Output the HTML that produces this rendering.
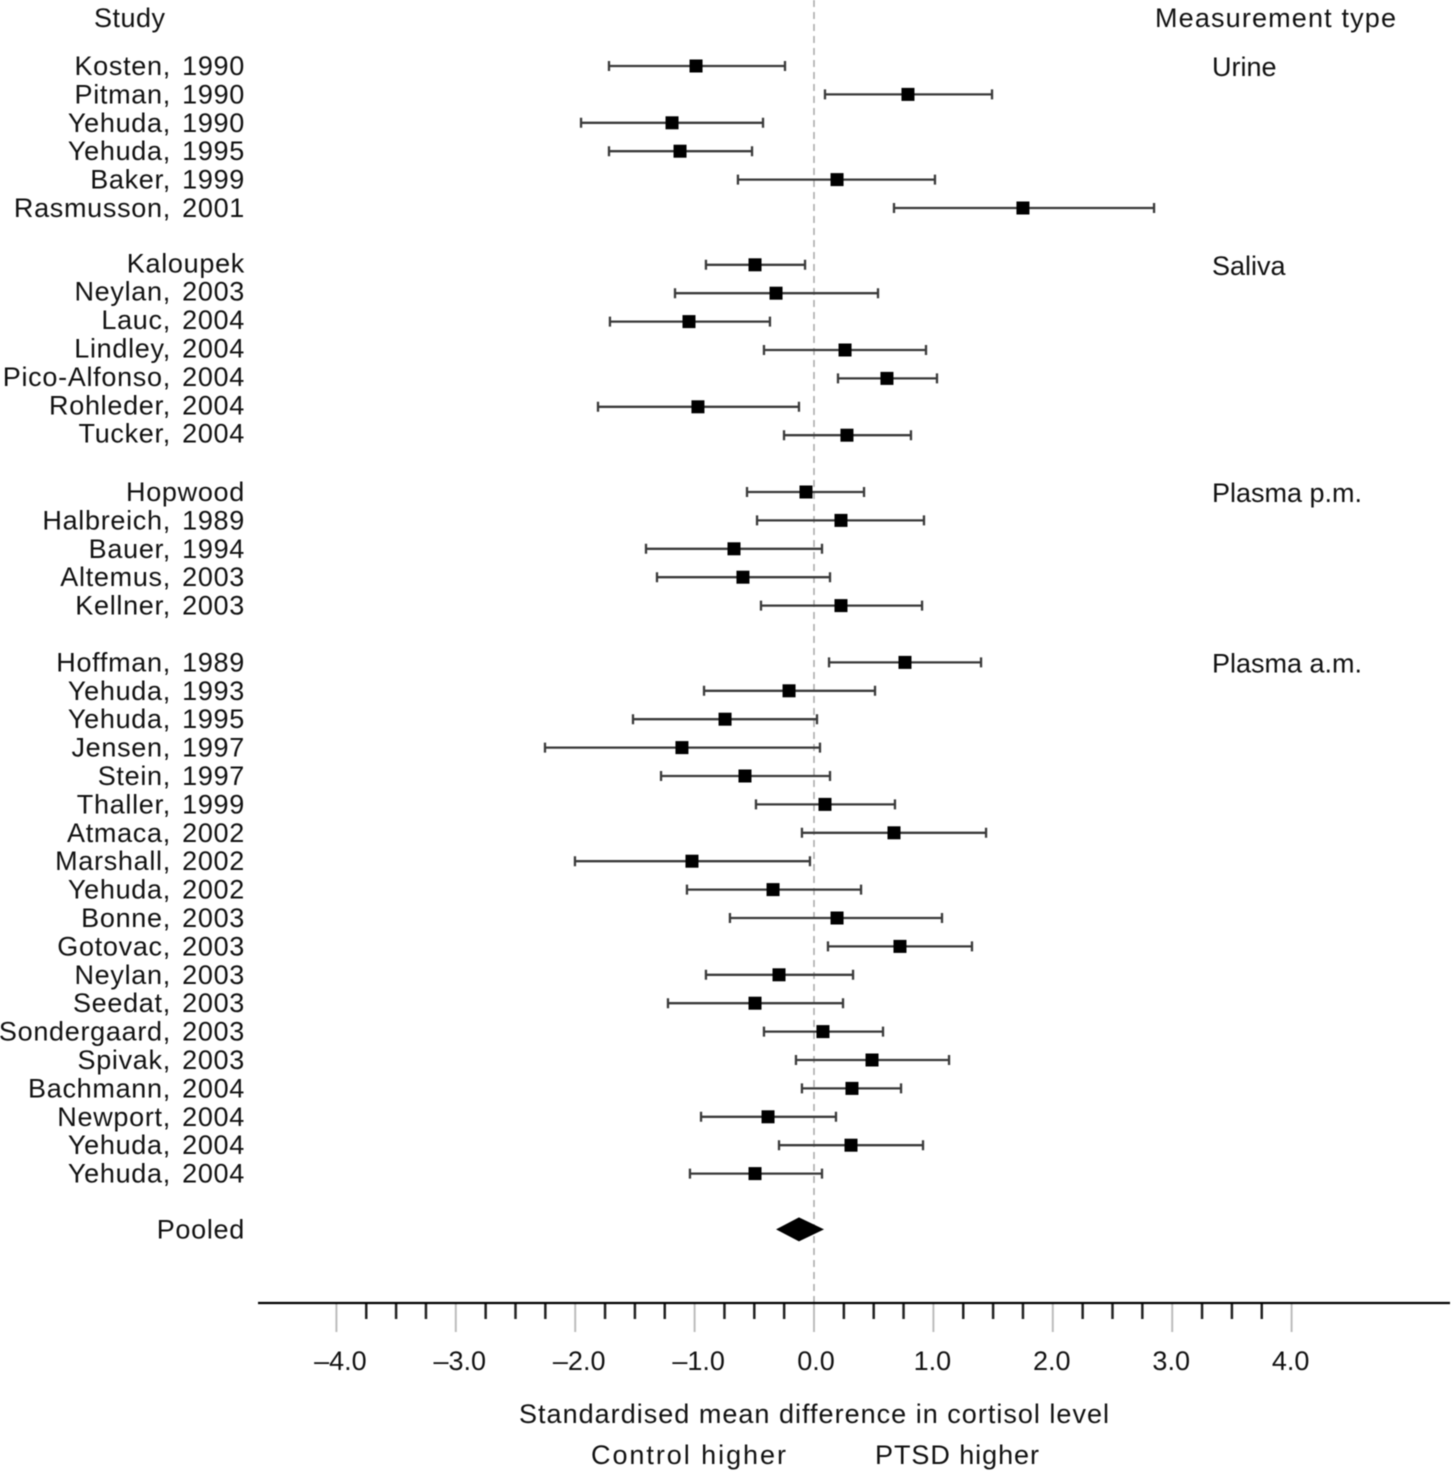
<!DOCTYPE html>
<html lang="en">
<head>
<meta charset="utf-8">
<title>Forest plot of cortisol level differences</title>
<style>
html,body{margin:0;padding:0;background:#fff;width:1452px;height:1474px;overflow:hidden}
svg{display:block;filter:blur(0.45px)}
text{font-family:"Liberation Sans",sans-serif;font-size:27px;fill:#111}
.study{letter-spacing:0.7px;word-spacing:3px}
</style>
</head>
<body>
<svg id="chart" xmlns="http://www.w3.org/2000/svg" width="1452" height="1474" viewBox="0 0 1452 1474">
  <line x1="814" y1="0" x2="814" y2="1303" stroke="#a8a8a8" stroke-width="1.5" stroke-dasharray="7 5"/>
  <text x="94" y="27" textLength="71">Study</text>
  <text x="1155" y="27" textLength="241">Measurement type</text>
  <text x="519" y="1423" textLength="590">Standardised mean difference in cortisol level</text>
  <text x="591" y="1464" textLength="195">Control higher</text>
  <text x="875" y="1464" textLength="164">PTSD higher</text>
  <g id="marks"></g>
  <g id="axis"></g>
</svg>
<script>
const groupNames = ["Urine", "Saliva", "Plasma p.m.", "Plasma a.m."];
const groupSizes = [6, 7, 5, 19];
const studies = [
  "Kosten, 1990","Pitman, 1990","Yehuda, 1990","Yehuda, 1995","Baker, 1999","Rasmusson, 2001",
  "Kaloupek","Neylan, 2003","Lauc, 2004","Lindley, 2004","Pico-Alfonso, 2004","Rohleder, 2004","Tucker, 2004",
  "Hopwood","Halbreich, 1989","Bauer, 1994","Altemus, 2003","Kellner, 2003",
  "Hoffman, 1989","Yehuda, 1993","Yehuda, 1995","Jensen, 1997","Stein, 1997","Thaller, 1999","Atmaca, 2002","Marshall, 2002","Yehuda, 2002","Bonne, 2003","Gotovac, 2003","Neylan, 2003","Seedat, 2003","Sondergaard, 2003","Spivak, 2003","Bachmann, 2004","Newport, 2004","Yehuda, 2004","Yehuda, 2004"
];
const estimates = [
  -0.988,0.787,-1.189,-1.122,0.193,1.750,
  -0.494,-0.318,-1.047,0.260,0.611,-0.972,0.276,
  -0.067,0.226,-0.670,-0.595,0.226,
  0.762,-0.209,-0.745,-1.106,-0.578,0.092,0.670,-1.022,-0.343,0.193,0.720,-0.293,-0.494,0.075,0.486,0.318,-0.385,0.310,-0.494
];
const ciLower = [
  -1.717,0.092,-1.951,-1.717,-0.637,0.670,
  -0.905,-1.164,-1.709,-0.419,0.201,-1.809,-0.251,
  -0.561,-0.477,-1.407,-1.315,-0.444,
  0.126,-0.921,-1.516,-2.253,-1.281,-0.486,-0.101,-2.002,-1.064,-0.704,0.117,-0.905,-1.223,-0.419,-0.151,-0.101,-0.946,-0.293,-1.039
];
const ciUpper = [
  -0.243,1.491,-0.427,-0.519,1.013,2.848,
  -0.075,0.536,-0.369,0.938,1.030,-0.126,0.812,
  0.419,0.921,0.067,0.134,0.905,
  1.399,0.511,0.025,0.050,0.134,0.678,1.441,-0.034,0.394,1.072,1.323,0.327,0.243,0.578,1.131,0.729,0.184,0.913,0.067
];
const pooledLabel = "Pooled";
const pooledEstimate = -0.126;
const pooledLower = -0.318;
const pooledUpper = 0.084;
const majorTickValues = [-4, -3, -2, -1, 0, 1, 2, 3, 4];
const majorTickLabels = ["\u20134.0", "\u20133.0", "\u20132.0", "\u20131.0", "0.0", "1.0", "2.0", "3.0", "4.0"];
const minorTickValues = [-3.75,-3.5,-3.25,-2.75,-2.5,-2.25,-1.75,-1.5,-1.25,-0.75,-0.5,-0.25,0.25,0.5,0.75,1.25,1.5,1.75,2.25,2.5,2.75,3.25,3.5,3.75];

const SVG_NS = "http://www.w3.org/2000/svg";
const xScale = v => 814 + v * 119.4;
const yScale = row => 66 + row * 28.4;
const marks = document.getElementById("marks");
const axis = document.getElementById("axis");

function make(parent, tag, attrs, content) {
  const el = document.createElementNS(SVG_NS, tag);
  for (const k in attrs) el.setAttribute(k, attrs[k]);
  if (content !== undefined) el.textContent = content;
  parent.appendChild(el);
  return el;
}

function drawInterval(parent, row, lo, hi) {
  const y = yScale(row);
  const whisker = make(parent, "path", {
    d: `M${xScale(lo)} ${y}H${xScale(hi)}M${xScale(lo)} ${y - 5}V${y + 5}M${xScale(hi)} ${y - 5}V${y + 5}`,
    stroke: "#3a3a3a", "stroke-width": 2.3, fill: "none"
  });
  
  
}

let row = 0;
let studyIndex = 0;
groupNames.forEach((groupName, g) => {
  const groupLabel = make(marks, "text", { x: 1212, y: yScale(row) + 10 }, groupName);
  
  
  const nudge = g === 1 ? -1.5 : 0;
  for (let n = 0; n < groupSizes[g]; n++) {
    const studyLabel = make(marks, "text", { x: 245, y: yScale(row) + 9 + nudge, "text-anchor": "end", class: "study" }, studies[studyIndex]);
    
    
    drawInterval(marks, row, ciLower[studyIndex], ciUpper[studyIndex]);
    const point = make(marks, "rect", {
      x: xScale(estimates[studyIndex]) - 6.5, y: yScale(row) - 6.5, width: 13, height: 13, fill: "#000"
    });
    
    
    row++;
    studyIndex++;
  }
  row++;
});

const pooledText = make(marks, "text", { x: 245, y: yScale(row) + 8, "text-anchor": "end", class: "study" }, pooledLabel);


const py = yScale(row) - 1;
const pooledDiamond = make(marks, "polygon", {
  points: `${xScale(pooledLower)},${py} ${xScale(pooledEstimate)},${py - 12} ${xScale(pooledUpper)},${py} ${xScale(pooledEstimate)},${py + 12}`,
  fill: "#000"
});



majorTickValues.forEach((v, i) => {
  const tick = make(axis, "line", { x1: xScale(v), x2: xScale(v), y1: 1303, y2: 1332, stroke: "#bcbcbc", "stroke-width": 2 });
  
  
  const labelShift = v < 0 ? 4 : (v > 0 ? -1 : 2);
  const label = make(axis, "text", { x: xScale(v) + labelShift, y: 1370, "text-anchor": "middle" }, majorTickLabels[i]);
  
  
});
minorTickValues.forEach(v => {
  const tick = make(axis, "line", { x1: xScale(v), x2: xScale(v), y1: 1303, y2: 1319, stroke: "#222", "stroke-width": 2.5 });
  
  
});
const axisLine = make(axis, "line", { x1: 258, x2: 1450, y1: 1303, y2: 1303, stroke: "#000", "stroke-width": 2.2 });


</script>
</body>
</html>
